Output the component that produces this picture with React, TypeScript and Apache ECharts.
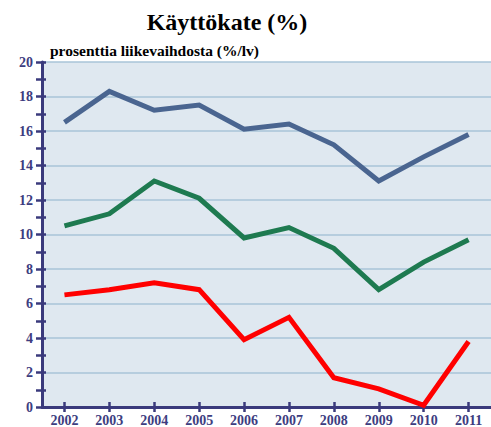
import React, { useEffect, useRef } from "react";
import * as echarts from "echarts";

const years = ["2002", "2003", "2004", "2005", "2006", "2007", "2008", "2009", "2010", "2011"];
const blueValues = [16.5, 18.3, 17.2, 17.5, 16.1, 16.4, 15.2, 13.1, 14.5, 15.8];
const greenValues = [10.5, 11.2, 13.1, 12.1, 9.8, 10.4, 9.2, 6.8, 8.4, 9.7];
const redValues = [6.5, 6.8, 7.2, 6.8, 3.9, 5.2, 1.7, 1.05, 0.1, 3.8];

const AXIS = "#3a3a7c";
const LABEL = "#3d3d80";
const SERIF = "Liberation Serif";

export default function App() {
  const ref = useRef<HTMLDivElement>(null);
  useEffect(() => {
    if (!ref.current) return;
    const chart = echarts.init(ref.current, null, { renderer: "svg" });
    const yBase = { type: "value", min: 0, max: 20, interval: 2, position: "left" };
    chart.setOption({
      animation: false,
      backgroundColor: "#ffffff",
      title: [
        {
          text: "Käyttökate (%)",
          left: 222,
          top: 5,
          textAlign: "center",
          textStyle: { fontFamily: SERIF, fontWeight: "bold", fontSize: 24, color: "#000" },
        },
        {
          text: "prosenttia liikevaihdosta (%/lv)",
          left: 45,
          top: 37,
          textStyle: { fontFamily: SERIF, fontWeight: "bold", fontSize: 15.5, color: "#000" },
        },
      ],
      grid: {
        left: 42,
        top: 62,
        width: 454,
        bottom: 19,
        show: true,
        backgroundColor: "#dfe8f0",
        borderWidth: 0,
        containLabel: false,
      },
      xAxis: [
        {
          type: "category",
          data: years,
          position: "bottom",
          boundaryGap: true,
          axisLine: { show: true, lineStyle: { color: AXIS, width: 3 } },
          axisTick: { show: true, alignWithLabel: true, length: 5, inside: false, lineStyle: { color: AXIS, width: 2.5 } },
          axisLabel: { color: LABEL, fontFamily: SERIF, fontWeight: "bold", fontSize: 14, margin: 6 },
          splitLine: { show: false },
        },
        {
          type: "category",
          data: years,
          position: "bottom",
          boundaryGap: true,
          axisLine: { show: false },
          axisTick: { show: true, alignWithLabel: true, length: 5, inside: true, lineStyle: { color: AXIS, width: 2.5 } },
          axisLabel: { show: false },
          splitLine: { show: false },
        },
      ],
      yAxis: [
        {
          ...yBase,
          axisLine: { show: true, lineStyle: { color: AXIS, width: 3 } },
          axisTick: { show: true, length: 6, lineStyle: { color: AXIS, width: 2.5 } },
          minorTick: { show: true, splitNumber: 2, length: 6, lineStyle: { color: AXIS, width: 2.5 } },
          axisLabel: { color: LABEL, fontFamily: SERIF, fontWeight: "bold", fontSize: 14, margin: 9 },
          splitLine: { show: true, lineStyle: { color: "#a9c4d8", width: 1.5 } },
        },
        {
          ...yBase,
          axisLine: { show: false },
          axisTick: { show: true, inside: true, length: 4, lineStyle: { color: AXIS, width: 2.5 } },
          minorTick: { show: true, splitNumber: 2, length: 4, lineStyle: { color: AXIS, width: 2.5 } },
          axisLabel: { show: false },
          splitLine: { show: false },
        },
      ],
      series: [
        {
          type: "line",
          data: blueValues,
          symbol: "none",
          lineStyle: { color: "#4a6590", width: 5, cap: "butt", join: "miter" },
          z: 3,
        },
        {
          type: "line",
          data: greenValues,
          symbol: "none",
          lineStyle: { color: "#1e7a50", width: 5, cap: "butt", join: "miter" },
          z: 3,
        },
        {
          type: "line",
          data: redValues,
          symbol: "none",
          lineStyle: { color: "#ff0000", width: 5, cap: "butt", join: "miter" },
          z: 3,
        },
      ],
    });
    return () => chart.dispose();
  }, []);
  return (
    <div
      ref={ref}
      style={{ position: "fixed", left: 0, top: 0, width: 491, height: 427, overflow: "hidden" }}
    />
  );
}
